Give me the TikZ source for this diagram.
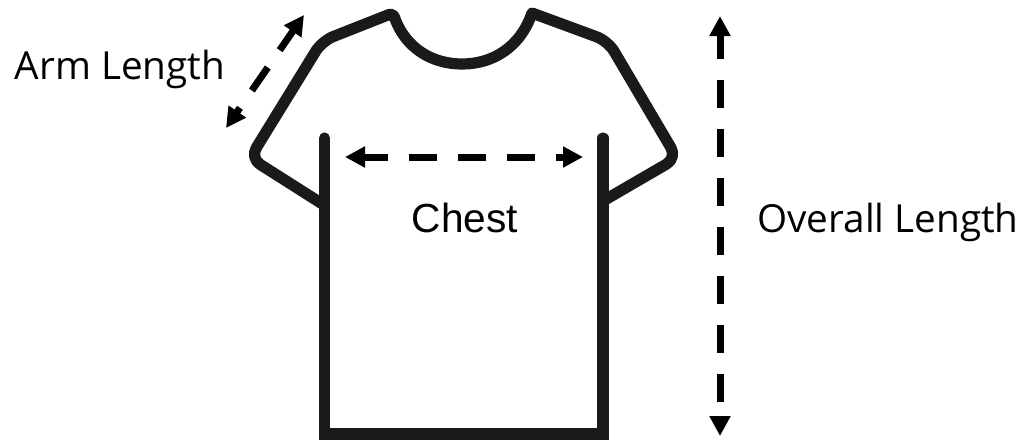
\documentclass[tikz,border=0pt]{standalone}
\usepackage{fontspec}
\setmainfont{Open Sans}
\newfontfamily\chestfont{Liberation Sans}
\usetikzlibrary{positioning,arrows.meta}
\definecolor{cShirt}{HTML}{1A1A1A}
\tikzset{
  shirt/.style={draw=cShirt,line width=8.4pt,line cap=round,line join=round},
  darr/.style={{Triangle[length=15pt,width=15pt]}-{Triangle[length=15pt,width=15pt]},line width=5.25pt,dash pattern=on 21pt off 15.75pt,dash phase=3pt},
  lbl/.style={font=\fontsize{29}{33}\selectfont,inner sep=0pt,text=black,anchor=base}}
\begin{document}
\begin{tikzpicture}[x=0.75pt,y=-0.75pt]
\useasboundingbox (0,0) rectangle (1023,440);
% shirt
\draw[shirt] (324,205) [rounded corners=9pt] -- (250,158) -- (322,41) [sharp corners] [rounded corners=3pt] -- (393,13) [sharp corners]
  .. controls (405,48) and (432,64) .. (462,64) .. controls (492,64) and (520,48) .. (532,13)
  [rounded corners=9pt] -- (608,41) -- (677,158) [sharp corners] -- (603,201);
\draw[shirt,line join=miter] (324.5,138) -- (324.5,434) -- (603,434) -- (603,138);
% measures
\coordinate (armT) at (304,15);
\coordinate (armB) at (226,128);
\coordinate (chestL) at (345,157);
\coordinate (chestR) at (583,157);
\coordinate (allT) at (720,16);
\coordinate (allB) at (720,436);
\draw[darr] (armT) -- (armB);
\draw[darr] (chestL) -- (chestR);
\draw[darr] (allT) -- (allB);
\node[lbl] (arm) at (120,79.5) {Arm Length};
\node[lbl,font=\chestfont\fontsize{30.5}{34}\selectfont] (chest) at (465,232) {Chest};
\node[lbl] (overall) at (888,232) {Overall Length};
\end{tikzpicture}
\end{document}
